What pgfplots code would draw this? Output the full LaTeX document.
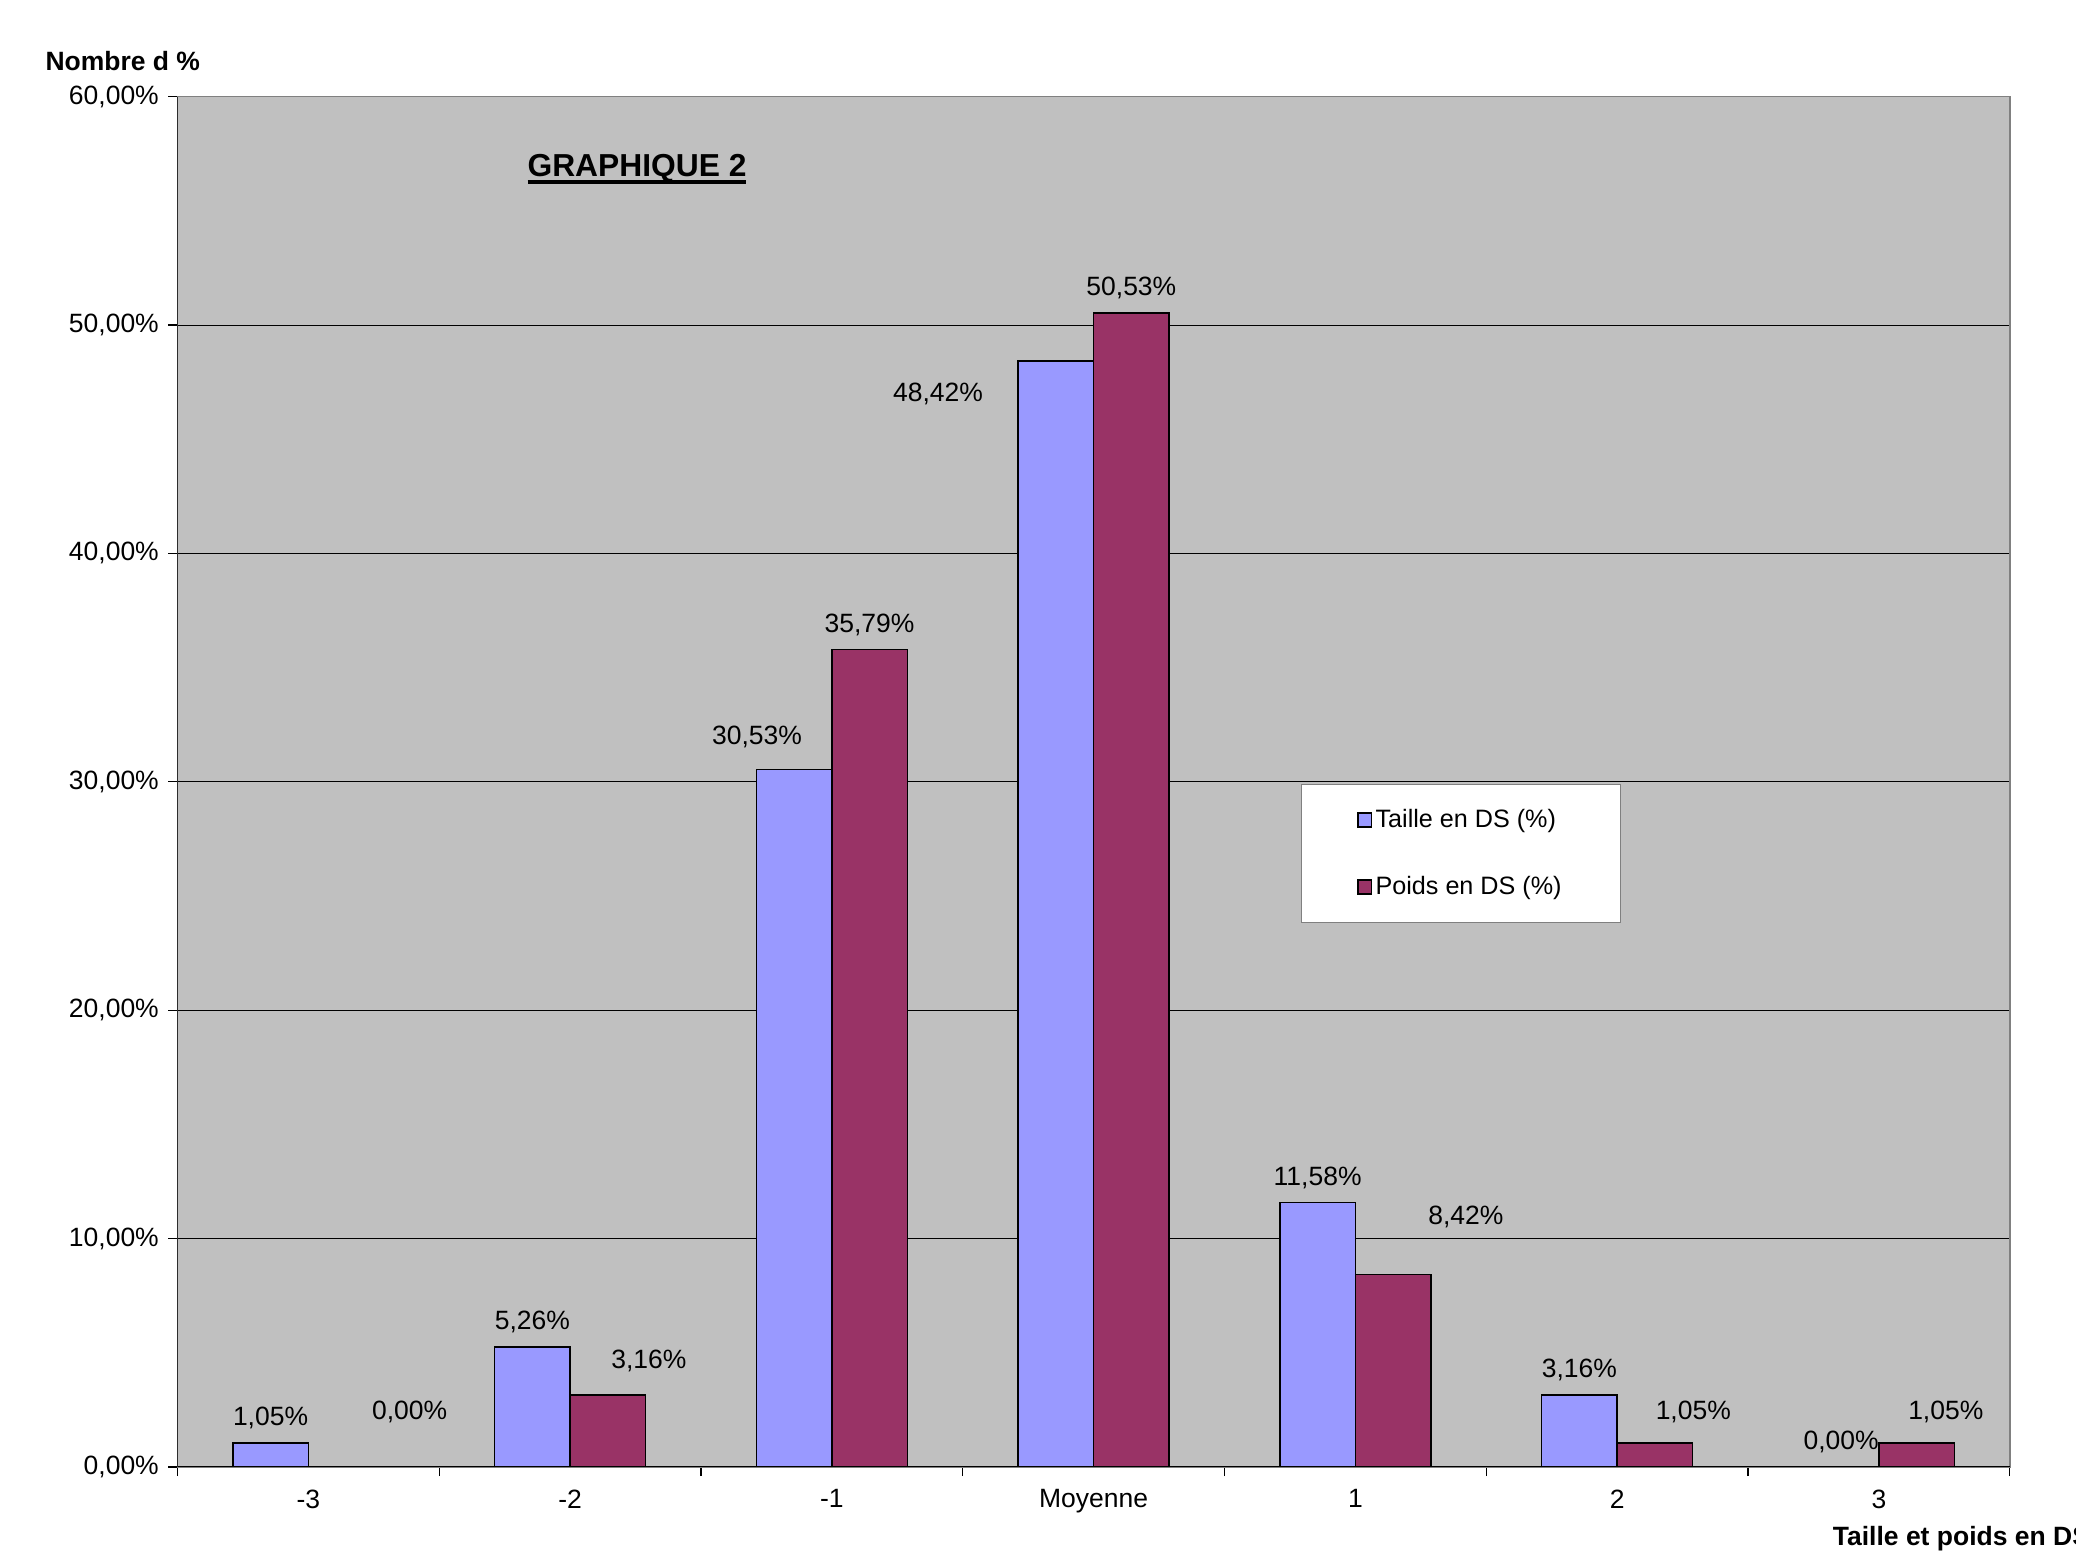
\documentclass[border=0pt]{standalone}
\usepackage{fontspec}
\setmainfont{Liberation Sans}
\usepackage{pgfplots}
\pgfplotsset{compat=1.18}
\usepackage{pgfplotstable}

\definecolor{bgray}{HTML}{C0C0C0}
\definecolor{tblue}{HTML}{9999FF}
\definecolor{pred}{HTML}{993366}

% x, value, label shifts (pt)
\pgfplotstableread{
x y dx dy
0 1.05 0 0
1 5.26 0 0
2 30.53 -14 3
3 48.42 -44.5 -21.5
4 11.58 0 0
5 3.16 0 0
6 0.00 0 0
}\taille
\pgfplotstableread{
x y dx dy
0 0.00 24 11.5
1 3.16 15.5 3.5
2 35.79 0 0
3 50.53 0 0
4 8.42 27.5 12.5
5 1.05 14.5 2.5
6 1.05 11 2.5
}\poids

\newcommand{\ul}[1]{\setbox0\hbox{#1}\rlap{\rule[-2.6pt]{\wd0}{1.3pt}}\box0}

\begin{document}
\begin{tikzpicture}
\begin{axis}[
  name=ax,
  scale only axis,
  width=692pt, height=517.5pt,
  ybar=0pt, bar width=28.5pt,
  xmin=-0.5, xmax=6.5,
  ymin=0, ymax=60,
  ytick={0,10,...,60},
  yticklabels={{0,00\%},{10,00\%},{20,00\%},{30,00\%},{40,00\%},{50,00\%},{60,00\%}},
  xtick={-0.5,0.5,...,6.5},
  xticklabels={,,,,,,,,},
  extra x ticks={0,1,...,6},
  extra x tick labels={-3,-2,-1,Moyenne,1,2,3},
  extra x tick style={major tick length=0pt},
  tick align=outside,
  major tick length=3.5pt,
  tick pos=left,
  ymajorgrids,
  grid style={black, line width=0.35pt},
  axis line style={draw=gray, line width=0.6pt},
  axis background/.style={fill=bgray},
  tick style={black, line width=0.5pt},
  ticklabel style={font=\fontsize{10}{12}\selectfont},
  xticklabel style={yshift=-5pt},
  /pgf/number format/assume math mode=true,
  point meta=y,
  visualization depends on={\thisrow{dx} \as \dx},
  visualization depends on={\thisrow{dy} \as \dy},
  nodes near coords={\pgfmathprintnumber[fixed,fixed zerofill,precision=2,use comma]{\pgfplotspointmeta}\%},
  every node near coord/.append style={font=\fontsize{10}{12}\selectfont, black,
    xshift=\dx*1pt, yshift=1.5pt+\dy*1pt},
  legend style={at={(0.613,0.4986)}, anchor=north west, draw=gray, fill=white,
    font=\fontsize{9.5}{11}\selectfont, inner xsep=21pt, inner ysep=8pt,
    row sep=14.5pt, line width=0.6pt,
    nodes={inner sep=1.2pt}},
  legend cell align=left,
  legend image code/.code={\draw[#1, line width=0.6pt] (0pt,-2.6pt) rectangle (5.2pt,2.6pt);},
]
\addplot[fill=tblue, draw=black, line width=0.6pt] table[x=x,y=y] {\taille};
\addlegendentry{Taille en DS (\%)}
\addplot[fill=pred, draw=black, line width=0.6pt] table[x=x,y=y] {\poids};
\addlegendentry{Poids en DS (\%)}

\draw[black, line width=0.6pt] (rel axis cs:0,1) -- (rel axis cs:0,0) -- (rel axis cs:1,0);
\node[anchor=west, inner sep=0pt, font=\fontsize{12}{14}\selectfont\bfseries]
  at (rel axis cs:0.1908,0.947) {\ul{GRAPHIQUE 2}};
\end{axis}
\node[anchor=west, inner sep=0pt, font=\fontsize{10}{12}\selectfont\bfseries]
  at ([shift={(-50pt,13.5pt)}]ax.north west) {Nombre d \%};
\node[anchor=west, inner sep=0pt, font=\fontsize{10}{12}\selectfont\bfseries]
  at ([shift={(-67pt,-27pt)}]ax.south east) {Taille et poids en DS};
\pgfresetboundingbox
\path[use as bounding box] ([shift={(-67pt,-32pt)}]ax.south west) rectangle ([shift={(25pt,36.5pt)}]ax.north east);
\end{tikzpicture}
\end{document}
